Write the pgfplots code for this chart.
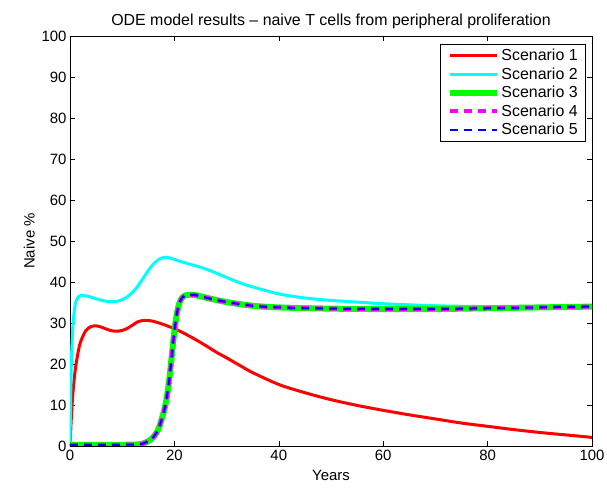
\documentclass[border=0pt]{standalone}
\usepackage{pgfplots}
\pgfplotsset{compat=1.18}
\usepackage{pgfplotstable}
\usepackage{fontspec}
\setmainfont{Liberation Sans}
\definecolor{mred}{rgb}{1,0,0}
\definecolor{mcyan}{rgb}{0,1,1}
\definecolor{mgreen}{rgb}{0,1,0}
\definecolor{mmagenta}{rgb}{1,0,1}
\definecolor{mblue}{rgb}{0,0,1}
\pgfplotstableread{
x y
0 0
0.3 8
0.6 13.5
1 18.5
1.5 22.5
2 25.3
3 28.1
4 29.1
5 29.3
6 29.0
7 28.5
8 28.1
9 28.0
10 28.2
11 28.7
12 29.5
13 30.3
14 30.6
15 30.6
16 30.4
18 29.6
20 28.6
22 27.4
24 26.0
26 24.5
28 22.9
30 21.5
33 19.3
35 17.9
40 15.0
45 13.0
50 11.3
55 9.9
60 8.7
65 7.6
70 6.6
75 5.6
80 4.8
85 4.0
90 3.3
95 2.7
100 2.1
}\scenA
\pgfplotstableread{
x y
0 0
0.15 14
0.3 22
0.6 30
1 34.5
1.6 36.4
2.5 36.7
3.5 36.5
5 35.9
6.5 35.4
7.7 35.2
9 35.3
10 35.7
11 36.4
12 37.5
13 39.0
14 40.9
15 42.8
16 44.4
17 45.5
18 46.0
19 45.9
20 45.5
22 44.7
25 43.6
28 42.2
30 41.1
33 39.6
35 38.8
40 37.1
45 36.1
50 35.5
55 35.1
60 34.7
70 34.2
80 34.0
90 34.0
100 34.0
}\scenB
\pgfplotstableread{
x y
0 0.3
10 0.3
12 0.35
13 0.4
14 0.6
15 1.2
16 2.2
17 4.3
18 8.5
18.5 11.5
19 16
19.5 22
20 28
20.5 32.5
21 35
21.5 36.2
22 36.7
23 36.9
24 36.8
25 36.5
27 35.9
30 35.1
35 34.2
40 33.8
50 33.5
60 33.4
70 33.4
80 33.6
90 33.8
100 34.0
}\scenC
\begin{document}
\begin{tikzpicture}
\begin{axis}[
  name=ax,
  scale only axis,
  width=522bp, height=410bp,
  xmin=0, xmax=100, ymin=0, ymax=100,
  xtick={0,20,...,100}, ytick={0,10,...,100},
  tick align=inside, major tick length=5bp,
  axis line style={line width=0.8bp},
  every tick/.style={black, line width=0.6bp},
  tick label style={font=\fontsize{15}{17}\selectfont},
  xticklabel style={yshift=-1bp},
  /pgf/number format/assume math mode=true,
  title={ODE model results -- naive T cells from peripheral proliferation},
  title style={font=\fontsize{16}{18}\selectfont, yshift=-2bp},
  xlabel={Years}, ylabel={Naive \%},
  label style={font=\fontsize{15}{17}\selectfont},
  xlabel style={yshift=-2bp},
  ylabel style={yshift=0bp},
  legend style={at={(0.9885,0.9805)}, anchor=north east, draw=black, line width=0.6bp,
    font=\fontsize{16}{18}\selectfont, row sep=1.5bp, inner xsep=6bp, inner ysep=3bp},
  legend cell align=left,
  legend image code/.code={\draw[#1] (0bp,0bp) -- (47bp,0bp);},
]
\addplot[mred, line width=3bp, smooth] table[x=x,y=y]{\scenA};
\addlegendentry{Scenario 1}
\addplot[mcyan, line width=3bp, smooth] table[x=x,y=y]{\scenB};
\addlegendentry{Scenario 2}
\addplot[mgreen, line width=6bp, smooth] table[x=x,y=y]{\scenC};
\addlegendentry{Scenario 3}
\addplot[mmagenta, line width=4bp, dash pattern=on 8bp off 6bp, smooth] table[x=x,y=y]{\scenC};
\addlegendentry{Scenario 4}
\addplot[mblue, line width=2bp, dash pattern=on 8bp off 6bp, smooth] table[x=x,y=y]{\scenC};
\addlegendentry{Scenario 5}
\end{axis}
\pgfresetboundingbox
\useasboundingbox ([shift={(-70bp,-45bp)}]ax.south west) rectangle ([shift={(15bp,36bp)}]ax.north east);
\end{tikzpicture}
\end{document}
